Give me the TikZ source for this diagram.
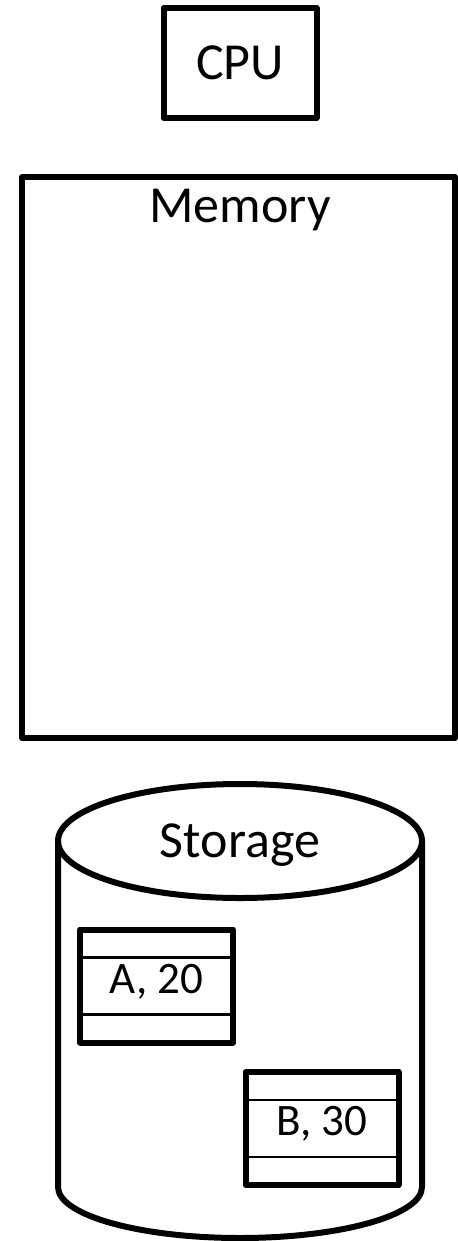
\documentclass[tikz,border=0pt]{standalone}
\usepackage{fontspec}
\setmainfont{Carlito}
\usetikzlibrary{positioning}
\tikzset{
  unitbox/.style={draw, line width=3pt, line join=round, inner sep=0pt,
                  minimum width=#1},
  bigtext/.style={font=\fontsize{26}{30}\selectfont, inner sep=0pt},
  record/.style={draw, line width=3pt, line join=round, inner sep=0pt,
                 font=\fontsize{22.5}{26}\selectfont, text height=0.71em, text depth=0pt,
                 minimum width=76.5pt, minimum height=56.5pt},
  divider/.style={line width=1.2pt},
  drum/.style={line width=3pt, line join=round},
}

\begin{document}
\begin{tikzpicture}[x=0.5pt, y=-0.5pt]
\useasboundingbox (0,0) rectangle (457,1241);
% CPU
\node[unitbox=76.5pt, minimum height=55pt, bigtext] (cpu) at (240,63) {CPU};
% Memory
\node[unitbox=216.5pt, minimum height=280.5pt] (memory) at (238.5,457.5) {};
\node[bigtext, anchor=base] (memlbl) at (240,222) {Memory};
% Storage drum
\draw[drum] (240,841) ellipse [x radius=91pt, y radius=28.5pt];
\draw[drum] (58,841) -- (58,1187)
  arc[start angle=180, end angle=360, x radius=91pt, y radius=25.5pt] -- (422,841);
\node[bigtext, anchor=base] (storlbl) at (240,857) {Storage};
% Records on disk
\foreach \nm/\px/\py/\lbl in {recA/156.5/986/{A, 20}, recB/322/1128.5/{B, 30}}{
  \node[record] (\nm) at (\px,\py) {\lbl};
  \draw[divider] ([yshift=-15.5pt]\nm.north west) -- ([yshift=-15.5pt]\nm.north east);
  \draw[divider] ([yshift=15.5pt]\nm.south west) -- ([yshift=15.5pt]\nm.south east);
}
\end{tikzpicture}
\end{document}
